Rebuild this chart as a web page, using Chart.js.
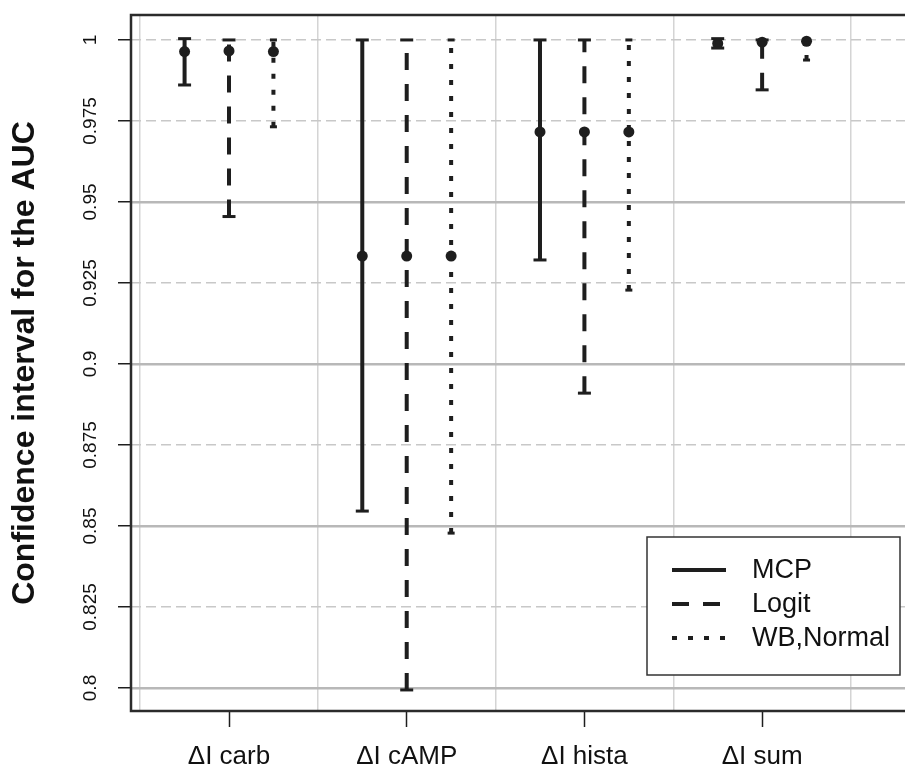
<!DOCTYPE html>
<html>
<head>
<meta charset="utf-8">
<script src="https://cdn.jsdelivr.net/npm/chart.js@4.4.0/dist/chart.umd.min.js"></script>
<style>
  html, body { margin: 0; padding: 0; background: #fff; }
  #wrap { width: 905px; height: 770px; }
</style>
</head>
<body>
<div id="wrap"><canvas id="auc-chart"></canvas></div>
<script>
var categories = ['ΔI carb', 'ΔI cAMP', 'ΔI hista', 'ΔI sum'];
var methods = ['MCP', 'Logit', 'WB,Normal'];

// point estimates of the AUC
var mcpEst = [0.9964, 0.9333, 0.9716, 0.9989];
var logitEst = [0.9966, 0.9333, 0.9716, 0.9993];
var wbEst = [0.9964, 0.9333, 0.9716, 0.9996];

// confidence limits
var mcpLower = [0.9861, 0.8546, 0.9321, 0.9975];
var mcpUpper = [1.0004, 1.0, 1.0, 1.0004];
var logitLower = [0.9455, 0.7994, 0.8910, 0.9846];
var logitUpper = [1.0, 1.0, 1.0, 1.0];
var wbLower = [0.9732, 0.8478, 0.9228, 0.9938];
var wbUpper = [1.0, 1.0, 1.0, 1.0];

var yTicks = [0.8, 0.825, 0.85, 0.875, 0.9, 0.925, 0.95, 0.975, 1];
var yTickLabels = ['0.8', '0.825', '0.85', '0.875', '0.9', '0.925', '0.95', '0.975', '1'];
var yMajorLines = [0.8, 0.85, 0.9, 0.95];
var xTicks = [1, 2, 3, 4];
var xGridLines = [0.5, 1.5, 2.5, 3.5, 4.5];

var INK = '#1e1e1e';
var dodge = 0.25;

// one broken line per method: lower -> upper, then a gap
function intervalPoints(shift, lower, upper) {
    var pts = [];
    for (var i = 0; i < lower.length; i++) {
        var x = xTicks[i] + shift;
        pts.push({x: x, y: lower[i]}, {x: x, y: upper[i]}, {x: x, y: null});
    }
    return pts;
}

function estimatePoints() {
    var pts = [];
    var sets = [mcpEst, logitEst, wbEst];
    for (var m = 0; m < sets.length; m++) {
        for (var i = 0; i < sets[m].length; i++) {
            pts.push({x: xTicks[i] + (m - 1) * dodge, y: sets[m][i]});
        }
    }
    return pts;
}

function fixedTicks(values) {
    return function(scale) {
        scale.ticks = values.map(function(v) { return {value: v}; });
    };
}

var dashes = [[], [17, 14], [5, 11]];

// frame around the plot and the legend box inside it
var boxPlugin = {
    id: 'boxAndLegend',
    afterDraw: function(chart) {
        var ctx = chart.ctx, a = chart.chartArea;
        ctx.save();
        ctx.strokeStyle = '#2b2b2b';
        ctx.lineWidth = 2.5;
        ctx.setLineDash([]);
        ctx.strokeRect(a.left, a.top, a.right - a.left + 10, a.bottom - a.top);

        var bx = a.right - 258, by = a.bottom - 174, bw = 253, bh = 138;
        ctx.fillStyle = '#fff';
        ctx.fillRect(bx, by, bw, bh);
        ctx.lineWidth = 1.5;
        ctx.strokeStyle = '#333';
        ctx.strokeRect(bx, by, bw, bh);

        ctx.font = '27px "Liberation Sans", Arial, sans-serif';
        ctx.textBaseline = 'middle';
        ctx.textAlign = 'left';
        for (var i = 0; i < methods.length; i++) {
            var ly = by + 33 + i * 34;
            ctx.strokeStyle = INK;
            ctx.lineWidth = 4;
            ctx.setLineDash(dashes[i]);
            ctx.beginPath();
            ctx.moveTo(bx + 25, ly);
            ctx.lineTo(bx + 79, ly);
            ctx.stroke();
            ctx.fillStyle = '#111';
            ctx.fillText(methods[i], bx + 105, ly + 1);
        }
        ctx.restore();
    }
};

function initAucChart() {
    var ctx = document.getElementById('auc-chart').getContext('2d');
    var intervalStyle = {
        type: 'line',
        borderColor: INK,
        borderWidth: 4,
        pointStyle: 'line',
        pointBorderColor: INK,
        pointBorderWidth: 3,
        spanGaps: false,
        fill: false,
        tension: 0
    };
    new Chart(ctx, {
        type: 'line',
        data: {
            datasets: [
                Object.assign({}, intervalStyle, {
                    label: methods[0], data: intervalPoints(-dodge, mcpLower, mcpUpper),
                    borderDash: dashes[0], pointRadius: 6.5, pointHoverRadius: 6.5
                }),
                Object.assign({}, intervalStyle, {
                    label: methods[1], data: intervalPoints(0, logitLower, logitUpper),
                    borderDash: dashes[1], pointRadius: 6.5, pointHoverRadius: 6.5
                }),
                Object.assign({}, intervalStyle, {
                    label: methods[2], data: intervalPoints(dodge, wbLower, wbUpper),
                    borderDash: dashes[2], pointRadius: 3.5, pointHoverRadius: 3.5
                }),
                {
                    type: 'scatter',
                    label: 'estimate',
                    data: estimatePoints(),
                    pointRadius: 5.5,
                    pointHoverRadius: 5.5,
                    backgroundColor: INK,
                    borderWidth: 0,
                    showLine: false
                }
            ]
        },
        options: {
            responsive: true,
            maintainAspectRatio: false,
            animation: false,
            devicePixelRatio: 1,
            layout: { autoPadding: false, padding: { top: 15, left: 0, right: 0, bottom: 0 } },
            plugins: {
                legend: { display: false },
                tooltip: { enabled: false }
            },
            scales: {
                x: {
                    type: 'linear',
                    position: 'bottom',
                    min: 0.4485,
                    max: 4.804,
                    afterBuildTicks: fixedTicks(xTicks),
                    afterFit: function(s) { s.height = 59; },
                    ticks: {
                        autoSkip: false,
                        maxRotation: 0,
                        padding: 14,
                        color: '#111',
                        font: { family: '"Liberation Sans", Arial, sans-serif', size: 26 },
                        callback: function(v) { return categories[xTicks.indexOf(v)]; }
                    },
                    grid: {
                        drawOnChartArea: false,
                        tickLength: 16,
                        tickWidth: 1.5,
                        tickColor: INK
                    },
                    border: { display: false }
                },
                x2: {
                    type: 'linear',
                    position: 'top',
                    min: 0.4485,
                    max: 4.804,
                    afterBuildTicks: fixedTicks(xGridLines),
                    afterFit: function(s) { s.height = 0; },
                    ticks: { display: false },
                    grid: { color: '#d4d4d4', lineWidth: 1.5, drawTicks: false },
                    border: { display: false }
                },
                y: {
                    type: 'linear',
                    position: 'left',
                    min: 0.7929,
                    max: 1.0077,
                    afterBuildTicks: fixedTicks(yTicks),
                    afterFit: function(s) { s.width = 131; },
                    ticks: {
                        autoSkip: false,
                        minRotation: 90,
                        maxRotation: 90,
                        crossAlign: 'center',
                        padding: 3,
                        color: '#111',
                        font: { family: '"Liberation Sans", Arial, sans-serif', size: 19 },
                        callback: function(v) { return yTickLabels[yTicks.indexOf(v)]; }
                    },
                    grid: {
                        color: '#c8c8c8',
                        lineWidth: 1.5,
                        tickLength: 13,
                        tickWidth: 1.5,
                        tickColor: INK
                    },
                    border: { display: false, dash: [10, 5] },
                    title: {
                        display: true,
                        text: 'Confidence interval for the AUC',
                        color: '#111',
                        padding: { top: 6, bottom: 0 },
                        font: { family: '"Liberation Sans", Arial, sans-serif', size: 32, weight: 'bold' }
                    }
                },
                y2: {
                    type: 'linear',
                    position: 'right',
                    min: 0.7929,
                    max: 1.0077,
                    afterBuildTicks: fixedTicks(yMajorLines),
                    afterFit: function(s) { s.width = 0; },
                    ticks: { display: false },
                    grid: { color: '#b8b8b8', lineWidth: 2.5, drawTicks: false },
                    border: { display: false }
                }
            }
        },
        plugins: [boxPlugin]
    });
}
document.addEventListener('DOMContentLoaded', initAucChart);
</script>
</body>
</html>
